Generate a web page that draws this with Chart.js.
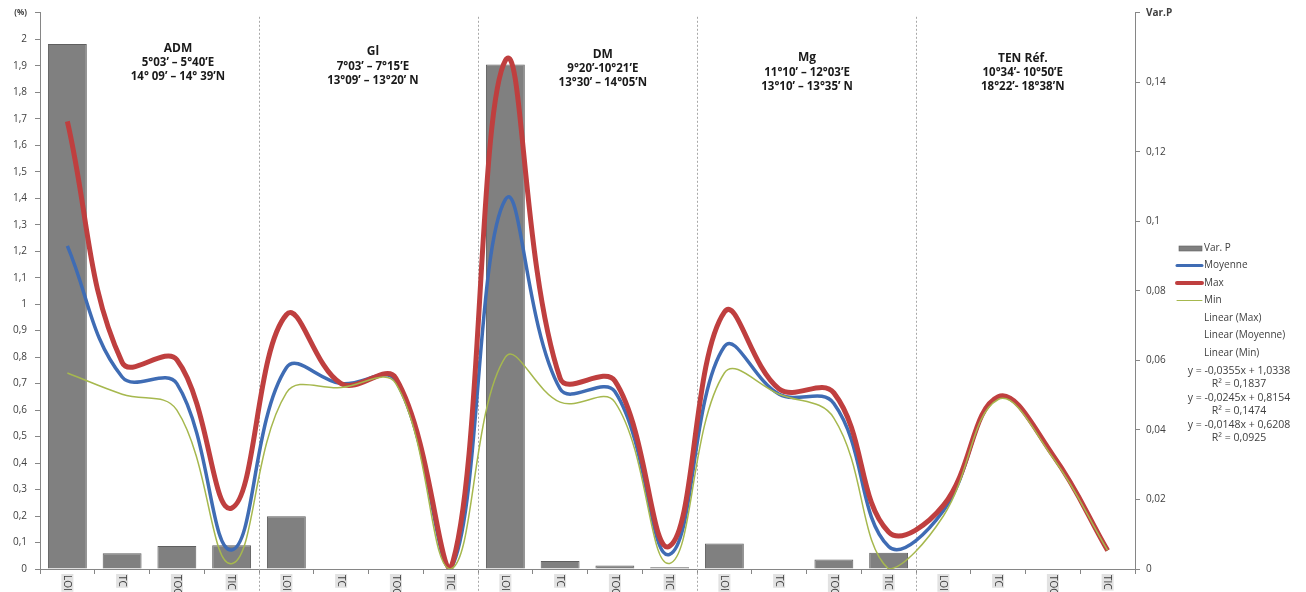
<!DOCTYPE html>
<html>
<head>
<meta charset="utf-8">
<script src="https://cdn.jsdelivr.net/npm/chart.js@4.4.1/dist/chart.umd.min.js"></script>
<style>
  html, body { margin: 0; padding: 0; background: #ffffff; }
  #wrap { width: 1306px; height: 592px; position: relative; }
</style>
</head>
<body>
<div id="wrap"><canvas id="chart" width="1306" height="592"></canvas></div>
<script>
// Sample parameters per site (LOI, TC, TOC, TIC)
const categories = [
  'LOI', 'TC', 'TOC', 'TIC',
  'LOI', 'TC', 'TOC', 'TIC',
  'LOI', 'TC', 'TOC', 'TIC',
  'LOI', 'TC', 'TOC', 'TIC',
  'LOI', 'TC', 'TOC', 'TIC'
];

// Variance (right axis)
const varP = [0.151, 0.0045, 0.0066, 0.0068, 0.0152, 0, 0, 0, 0.1451, 0.0023, 0.001, 0.0005, 0.0073, 0, 0.0027, 0.0047, 0, 0, 0, 0];

// Percent values (left axis)
const moyenne = [1.22, 0.725, 0.70, 0.072, 0.76, 0.70, 0.71, 0, 1.395, 0.68, 0.67, 0.055, 0.84, 0.66, 0.625, 0.085, 0.22, 0.65, 0.43, 0.07];
const maxVals = [1.69, 0.78, 0.79, 0.23, 0.96, 0.70, 0.72, 0, 1.92, 0.72, 0.71, 0.086, 0.97, 0.68, 0.665, 0.14, 0.24, 0.65, 0.43, 0.07];
const minVals = [0.74, 0.66, 0.60, 0.02, 0.665, 0.685, 0.70, 0, 0.80, 0.63, 0.63, 0.021, 0.74, 0.66, 0.57, 0, 0.20, 0.64, 0.42, 0.07];

// Site headings
const siteNames = ['ADM', 'Gl', 'DM', 'Mg', 'TEN Réf.'];
const siteLon = ['5°03’ – 5°40’E', '7°03’ – 7°15’E', '9°20’-10°21’E', '11°10’ – 12°03’E', '10°34’- 10°50’E'];
const siteLat = ['14° 09’ – 14° 39’N', '13°09’ – 13°20’ N', '13°30’ – 14°05’N', '13°10’ – 13°35’ N', '18°22’- 18°38’N'];

// Legend entries and trendline equations
const legendLabels = ['Var. P', 'Moyenne', 'Max', 'Min', 'Linear (Max)', 'Linear (Moyenne)', 'Linear (Min)'];
const trendEquations = ['y = -0,0355x + 1,0338', 'y = -0,0245x + 0,8154', 'y = -0,0148x + 0,6208'];
const trendR2 = ['R² = 0,1837', 'R² = 0,1474', 'R² = 0,0925'];

// Left and right axis ranges
const leftMax = 2.1, leftStep = 0.1;
const rightMax = 0.16, rightStep = 0.02;

const FONT = "'Open Sans', 'Liberation Sans', sans-serif";
const TEXT = '#404040';
const AXIS = '#868686';
const C_BAR = '#808080', C_MOY = '#3F6CB4', C_MAX = '#BF3F3F', C_MIN = '#A6B84E';

function fmt(v) {
  return String(Number(v.toFixed(2))).replace('.', ',');
}

// Heading anchors: category position and left-axis value of the title line
const headingPos = [
  { x: 2.02, y: 1.965 },
  { x: 5.58, y: 1.953 },
  { x: 9.78, y: 1.942 },
  { x: 13.51, y: 1.930 },
  { x: 17.45, y: 1.927 }
];

const decorPlugin = {
  id: 'decor',
  beforeDatasetsDraw(chart) {
    const { ctx, chartArea, scales } = chart;
    const xs = scales.x;
    ctx.save();
    ctx.strokeStyle = '#a8a8a8';
    ctx.lineWidth = 1;
    ctx.setLineDash([2, 2]);
    for (let g = 4; g < categories.length; g += 4) {
      const x = Math.round((xs.getPixelForValue(g - 1) + xs.getPixelForValue(g)) / 2) + 0.5;
      ctx.beginPath();
      ctx.moveTo(x, chartArea.top + 4);
      ctx.lineTo(x, chart.height);
      ctx.stroke();
    }
    ctx.restore();
  },
  afterDraw(chart) {
    const { ctx, scales } = chart;
    const xs = scales.x, ys = scales.y;
    ctx.save();

    // rotated category labels with light backdrop
    ctx.font = '10px ' + FONT;
    ctx.textBaseline = 'middle';
    ctx.textAlign = 'left';
    categories.forEach((lab, i) => {
      const x = xs.getPixelForValue(i);
      const y = xs.top + 6;
      ctx.save();
      ctx.translate(x, y);
      ctx.rotate(Math.PI / 2);
      const w = ctx.measureText(lab).width;
      ctx.fillStyle = '#e2e2e2';
      ctx.fillRect(-1, -6, w + 2, 12);
      ctx.fillStyle = TEXT;
      ctx.fillText(lab, 0, 0.5);
      ctx.restore();
    });

    // site headings
    ctx.fillStyle = '#1a1a1a';
    ctx.textAlign = 'center';
    siteNames.forEach((name, i) => {
      const p = headingPos[i];
      const x = xs.getPixelForValue(p.x);
      const y = ys.getPixelForValue(p.y);
      ctx.font = 'bold 12px ' + FONT;
      ctx.fillText(name, x, y);
      ctx.font = 'bold 11.5px ' + FONT;
      ctx.fillText(siteLon[i], x, y + 14.5);
      ctx.fillText(siteLat[i], x, y + 28.5);
    });

    // legend
    const lx = 1177, tx = 1204;
    let ly = 248;
    const rowH = 17.5;
    ctx.textAlign = 'left';
    ctx.font = '10px ' + FONT;
    legendLabels.forEach((lab, i) => {
      const y = ly + i * rowH;
      if (i === 0) {
        ctx.fillStyle = C_BAR;
        ctx.fillRect(lx + 2, y - 2, 23, 5);
        ctx.strokeStyle = '#5f5f5f';
        ctx.lineWidth = 0.6;
        ctx.strokeRect(lx + 2, y - 2, 23, 5);
      } else if (i <= 3) {
        const col = [C_MOY, C_MAX, C_MIN][i - 1];
        const lw = [3, 4, 1][i - 1];
        ctx.strokeStyle = col;
        ctx.lineWidth = lw;
        ctx.lineCap = 'round';
        ctx.beginPath();
        ctx.moveTo(lx, y);
        ctx.lineTo(lx + 25, y);
        ctx.stroke();
      }
      ctx.fillStyle = TEXT;
      ctx.fillText(lab, tx, y);
    });
    ctx.textAlign = 'center';
    ctx.font = '10.5px ' + FONT;
    const ex = 1239;
    trendEquations.forEach((eq, i) => {
      const y = 371 + i * 27;
      ctx.fillText(eq, ex, y);
      ctx.fillText(trendR2[i], ex, y + 13);
    });
    ctx.restore();
  }
};

const ctx = document.getElementById('chart').getContext('2d');
new Chart(ctx, {
  data: {
    labels: categories,
    datasets: [
      {
        type: 'bar', label: 'Var. P', data: varP, yAxisID: 'y2', order: 10,
        backgroundColor: C_BAR, borderColor: '#5f5f5f', borderWidth: 1,
        barPercentage: 0.71, categoryPercentage: 1.0
      },
      {
        type: 'line', label: 'Moyenne', data: moyenne, yAxisID: 'y', order: 3,
        borderColor: C_MOY, borderWidth: 3.5, tension: 0.4, pointRadius: 0, fill: false
      },
      {
        type: 'line', label: 'Max', data: maxVals, yAxisID: 'y', order: 2,
        borderColor: C_MAX, borderWidth: 5, tension: 0.4, pointRadius: 0, fill: false
      },
      {
        type: 'line', label: 'Min', data: minVals, yAxisID: 'y', order: 1,
        borderColor: C_MIN, borderWidth: 1.5, tension: 0.4, pointRadius: 0, fill: false
      }
    ]
  },
  options: {
    responsive: false,
    animation: false,
    layout: { padding: { top: 10, left: 0, right: 0, bottom: 0 } },
    plugins: { legend: { display: false }, tooltip: { enabled: false } },
    scales: {
      x: {
        type: 'category',
        offset: true,
        grid: { display: true, drawOnChartArea: false, drawTicks: true, tickLength: 5, offset: true, color: AXIS, tickColor: AXIS },
        border: { display: true, color: AXIS, width: 1 },
        ticks: { display: false },
        afterFit(scale) { scale.height = 23; }
      },
      y: {
        position: 'left',
        min: 0, max: leftMax,
        grid: { drawOnChartArea: false, drawTicks: true, tickLength: 5, color: AXIS },
        border: { display: true, color: AXIS, width: 1 },
        ticks: {
          stepSize: leftStep,
          padding: 8,
          color: TEXT,
          font: (c) => (c.tick && Math.abs(c.tick.value - leftMax) < 1e-6)
            ? { family: FONT, size: 8, weight: 'bold' }
            : { family: FONT, size: 10 },
          callback: (v) => Math.abs(v - leftMax) < 1e-6 ? '(%)' : fmt(v)
        },
        afterFit(scale) { scale.width = 40; }
      },
      y2: {
        position: 'right',
        min: 0, max: rightMax,
        grid: { drawOnChartArea: false, drawTicks: true, tickLength: 5, color: AXIS },
        border: { display: true, color: AXIS, width: 1 },
        ticks: {
          stepSize: rightStep,
          padding: 6,
          color: TEXT,
          font: (c) => (c.tick && Math.abs(c.tick.value - rightMax) < 1e-6)
            ? { family: FONT, size: 10, weight: 'bold' }
            : { family: FONT, size: 10 },
          callback: (v) => Math.abs(v - rightMax) < 1e-6 ? 'Var.P' : fmt(v)
        },
        afterFit(scale) { scale.width = 171; }
      }
    }
  },
  plugins: [decorPlugin]
});
</script>
</body>
</html>
